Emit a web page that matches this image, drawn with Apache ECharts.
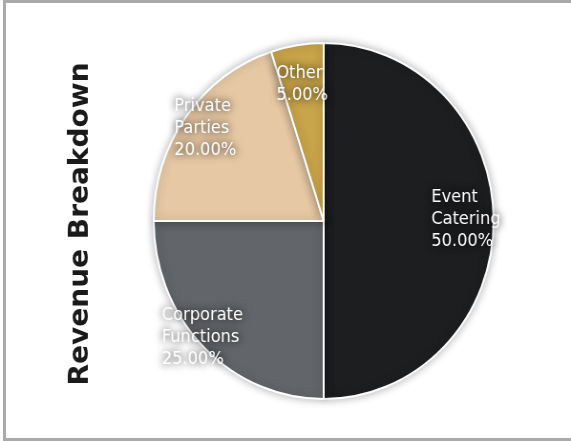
<!DOCTYPE html>
<html>
<head>
<meta charset="utf-8">
<script src="https://cdn.jsdelivr.net/npm/echarts@6/dist/echarts.min.js"></script>
<style>
  html, body { margin: 0; padding: 0; background: #fff; overflow: hidden; }
  #frame { position: absolute; left: 3px; top: 0; width: 600px; height: 441px; box-sizing: border-box; border: 3px solid #aaaaaa; }
  #chart { position: absolute; left: 0; top: 0; width: 598px; height: 441px; transform: scaleX(0.9548); transform-origin: 0 0; }
</style>
</head>
<body>
<div id="frame"></div>
<div id="chart"></div>
<script>
const titleText = 'Revenue Breakdown';
const categories = ['Event Catering', 'Corporate Functions', 'Private Parties', 'Other'];
const values = [50, 25, 20, 5];
const colors = ['#1d1e20', '#62666a', '#e6c8a4', '#c8a44a'];
const labelNudges = [[-8, -1], [-16, 6], [3, 0], [2, 19]];

const chart = echarts.init(document.getElementById('chart'), null, { renderer: 'canvas' });

const baseData = categories.map((c, i) => ({ name: c, value: values[i], itemStyle: { color: colors[i] } }));
const labelData = categories.map((c, i) => ({ name: c, value: values[i], label: { offset: labelNudges[i] } }));

const center = [339, 221];
const R = 178;

const textStyle = {
  color: '#ffffff', fontFamily: 'DejaVu Sans', fontSize: 17, lineHeight: 22, align: 'left',
  textShadowColor: 'rgba(0,0,0,1)', textShadowBlur: 9
};

chart.setOption({
  animation: false,
  graphic: [{
    type: 'text',
    x: 85,
    y: 224,
    rotation: Math.PI / 2,
    style: {
      text: titleText,
      font: 'bold 28px "DejaVu Sans"',
      fill: '#1a1a1a',
      textAlign: 'center',
      textVerticalAlign: 'middle'
    }
  }],
  series: [
    {
      type: 'pie',
      center: center,
      radius: [0, R],
      startAngle: 90,
      clockwise: true,
      silent: true,
      label: { show: false },
      labelLine: { show: false },
      itemStyle: { borderColor: '#ffffff', borderWidth: 2, shadowBlur: 10, shadowColor: 'rgba(0,0,0,0.3)' },
      data: baseData
    },
    {
      type: 'pie',
      center: center,
      radius: [130, R],
      startAngle: 90,
      clockwise: true,
      silent: true,
      z: 5,
      avoidLabelOverlap: false,
      itemStyle: { color: 'rgba(0,0,0,0)', borderWidth: 0 },
      labelLine: { show: false },
      label: Object.assign({
        show: true,
        position: 'inside',
        formatter: function (p) {
          const lines = p.name.split(' ').concat([p.percent.toFixed(2) + '%']);
          return lines.map(l => '{t|' + l + '}').join('\n');
        },
        rich: { t: textStyle }
      }, textStyle),
      data: labelData
    }
  ]
});
</script>
</body>
</html>
